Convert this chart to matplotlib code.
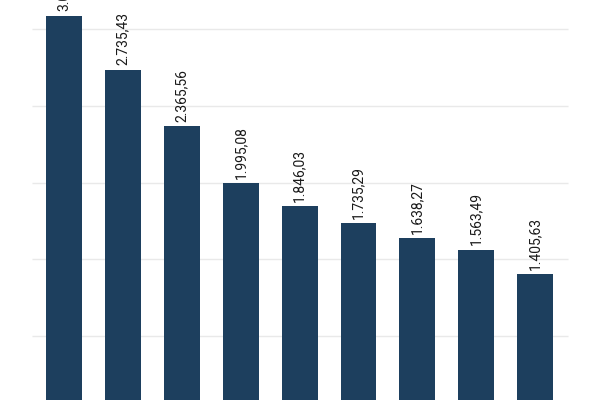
import matplotlib
matplotlib.use('agg')
import matplotlib.pyplot as plt
import numpy as np

# values (first bar label is cut off at the top)
values = [3087.0, 2735.43, 2365.56, 1995.08, 1846.03, 1735.29, 1638.27, 1563.49, 1405.63]
grid_levels = [500, 1000, 1500, 2000, 2500, 3000]


def fmt(v):
	s = f"{v:,.2f}"
	return s.replace(",", "X").replace(".", ",").replace("X", ".")


def main():
	plt.rcParams['font.family'] = ['Roboto', 'DejaVu Sans']
	fig = plt.figure(figsize=(6, 4), dpi=100)
	ax = fig.add_axes([0, 0, 1, 1])

	x = np.arange(len(values))
	ax.hlines(grid_levels, -0.54, 8.56, color='#e9e9e9', linewidth=1, zorder=0)
	ax.bar(x, values, width=0.61, color='#1d3f5e', zorder=2)

	for i, v in enumerate(values):
		ax.annotate(fmt(v), (i, v), xytext=(0, 3), textcoords='offset points',
			rotation=90, ha='center', va='bottom', fontsize=10, color='#1a1a1a')

	ax.set_xlim(-1.087, 9.10)
	ax.set_ylim(583, 3189)
	ax.axis('off')
	fig.savefig('out.png', dpi=100, facecolor='white')


main()
